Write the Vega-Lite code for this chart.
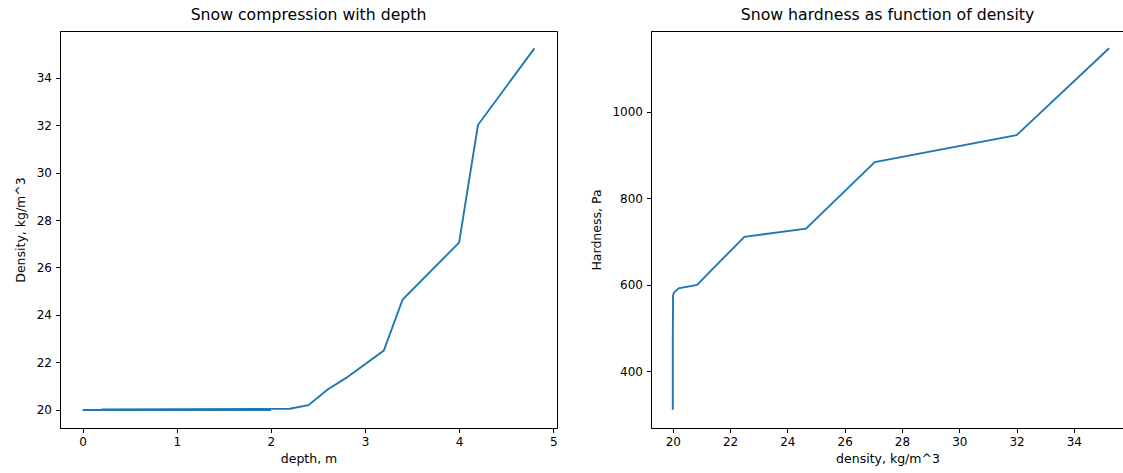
{
  "$schema": "https://vega.github.io/schema/vega-lite/v6.json",
  "padding": {"left": 14, "top": 6, "right": 0, "bottom": 0},
  "bounds": "flush",
  "spacing": 94,
  "datasets": {
    "depthData": [
      {"i": 0, "depth": 0.0, "density": 20.0},
      {"i": 1, "depth": 2.0, "density": 20.0},
      {"i": 2, "depth": 0.2, "density": 20.02},
      {"i": 3, "depth": 2.2, "density": 20.05},
      {"i": 4, "depth": 2.4, "density": 20.2},
      {"i": 5, "depth": 2.6, "density": 20.85},
      {"i": 6, "depth": 2.8, "density": 21.35},
      {"i": 7, "depth": 3.2, "density": 22.5},
      {"i": 8, "depth": 3.4, "density": 24.65},
      {"i": 9, "depth": 4.0, "density": 27.05},
      {"i": 10, "depth": 4.2, "density": 32.0},
      {"i": 11, "depth": 4.8, "density": 35.23}
    ],
    "hardData": [
      {"i": 0, "density": 20.0, "hardness": 311},
      {"i": 1, "density": 20.0, "hardness": 470},
      {"i": 2, "density": 20.01, "hardness": 575},
      {"i": 3, "density": 20.04, "hardness": 582},
      {"i": 4, "density": 20.2, "hardness": 592},
      {"i": 5, "density": 20.85, "hardness": 600},
      {"i": 6, "density": 21.35, "hardness": 634},
      {"i": 7, "density": 22.5, "hardness": 711},
      {"i": 8, "density": 24.65, "hardness": 730},
      {"i": 9, "density": 27.05, "hardness": 884},
      {"i": 10, "density": 32.0, "hardness": 946},
      {"i": 11, "density": 35.23, "hardness": 1147}
    ]
  },
  "hconcat": [
    {
      "title": "Snow compression with depth",
      "width": 497,
      "height": 397,
      "data": {"name": "depthData"},
      "mark": {"type": "line", "clip": true},
      "encoding": {
        "x": {"field": "depth", "type": "quantitative",
              "scale": {"domain": [-0.24, 5.04], "nice": false, "zero": false},
              "axis": {"values": [0, 1, 2, 3, 4, 5], "title": "depth, m", "titlePadding": 5}},
        "y": {"field": "density", "type": "quantitative",
              "scale": {"domain": [19.24, 35.96], "nice": false, "zero": false},
              "axis": {"values": [20, 22, 24, 26, 28, 30, 32, 34], "title": "Density, kg/m^3", "titlePadding": 8.5}},
        "order": {"field": "i", "type": "quantitative"}
      }
    },
    {
      "title": "Snow hardness as function of density",
      "width": 473,
      "height": 397,
      "data": {"name": "hardData"},
      "mark": {"type": "line", "clip": true},
      "encoding": {
        "x": {"field": "density", "type": "quantitative",
              "scale": {"domain": [19.24, 35.75], "nice": false, "zero": false},
              "axis": {"values": [20, 22, 24, 26, 28, 30, 32, 34], "title": "density, kg/m^3", "titlePadding": 5}},
        "y": {"field": "hardness", "type": "quantitative",
              "scale": {"domain": [269, 1187], "nice": false, "zero": false},
              "axis": {"values": [400, 600, 800, 1000], "format": "d", "title": "Hardness, Pa", "titlePadding": 8}},
        "order": {"field": "i", "type": "quantitative"}
      }
    }
  ],
  "config": {
    "view": {"stroke": "black", "strokeWidth": 1},
    "axis": {
      "grid": false,
      "domainColor": "black", "domainWidth": 1,
      "tickColor": "black", "tickWidth": 1, "tickSize": 4.5,
      "labelFont": "DejaVu Sans", "labelFontSize": 12, "labelColor": "black", "labelPadding": 4,
      "titleFont": "DejaVu Sans", "titleFontSize": 12.5, "titleFontWeight": "normal", "titleColor": "black"
    },
    "title": {"font": "DejaVu Sans", "fontSize": 15.7, "fontWeight": "normal", "color": "black", "offset": 7.5, "anchor": "middle"},
    "line": {"color": "#1f77b4", "strokeWidth": 1.9}
  }
}
